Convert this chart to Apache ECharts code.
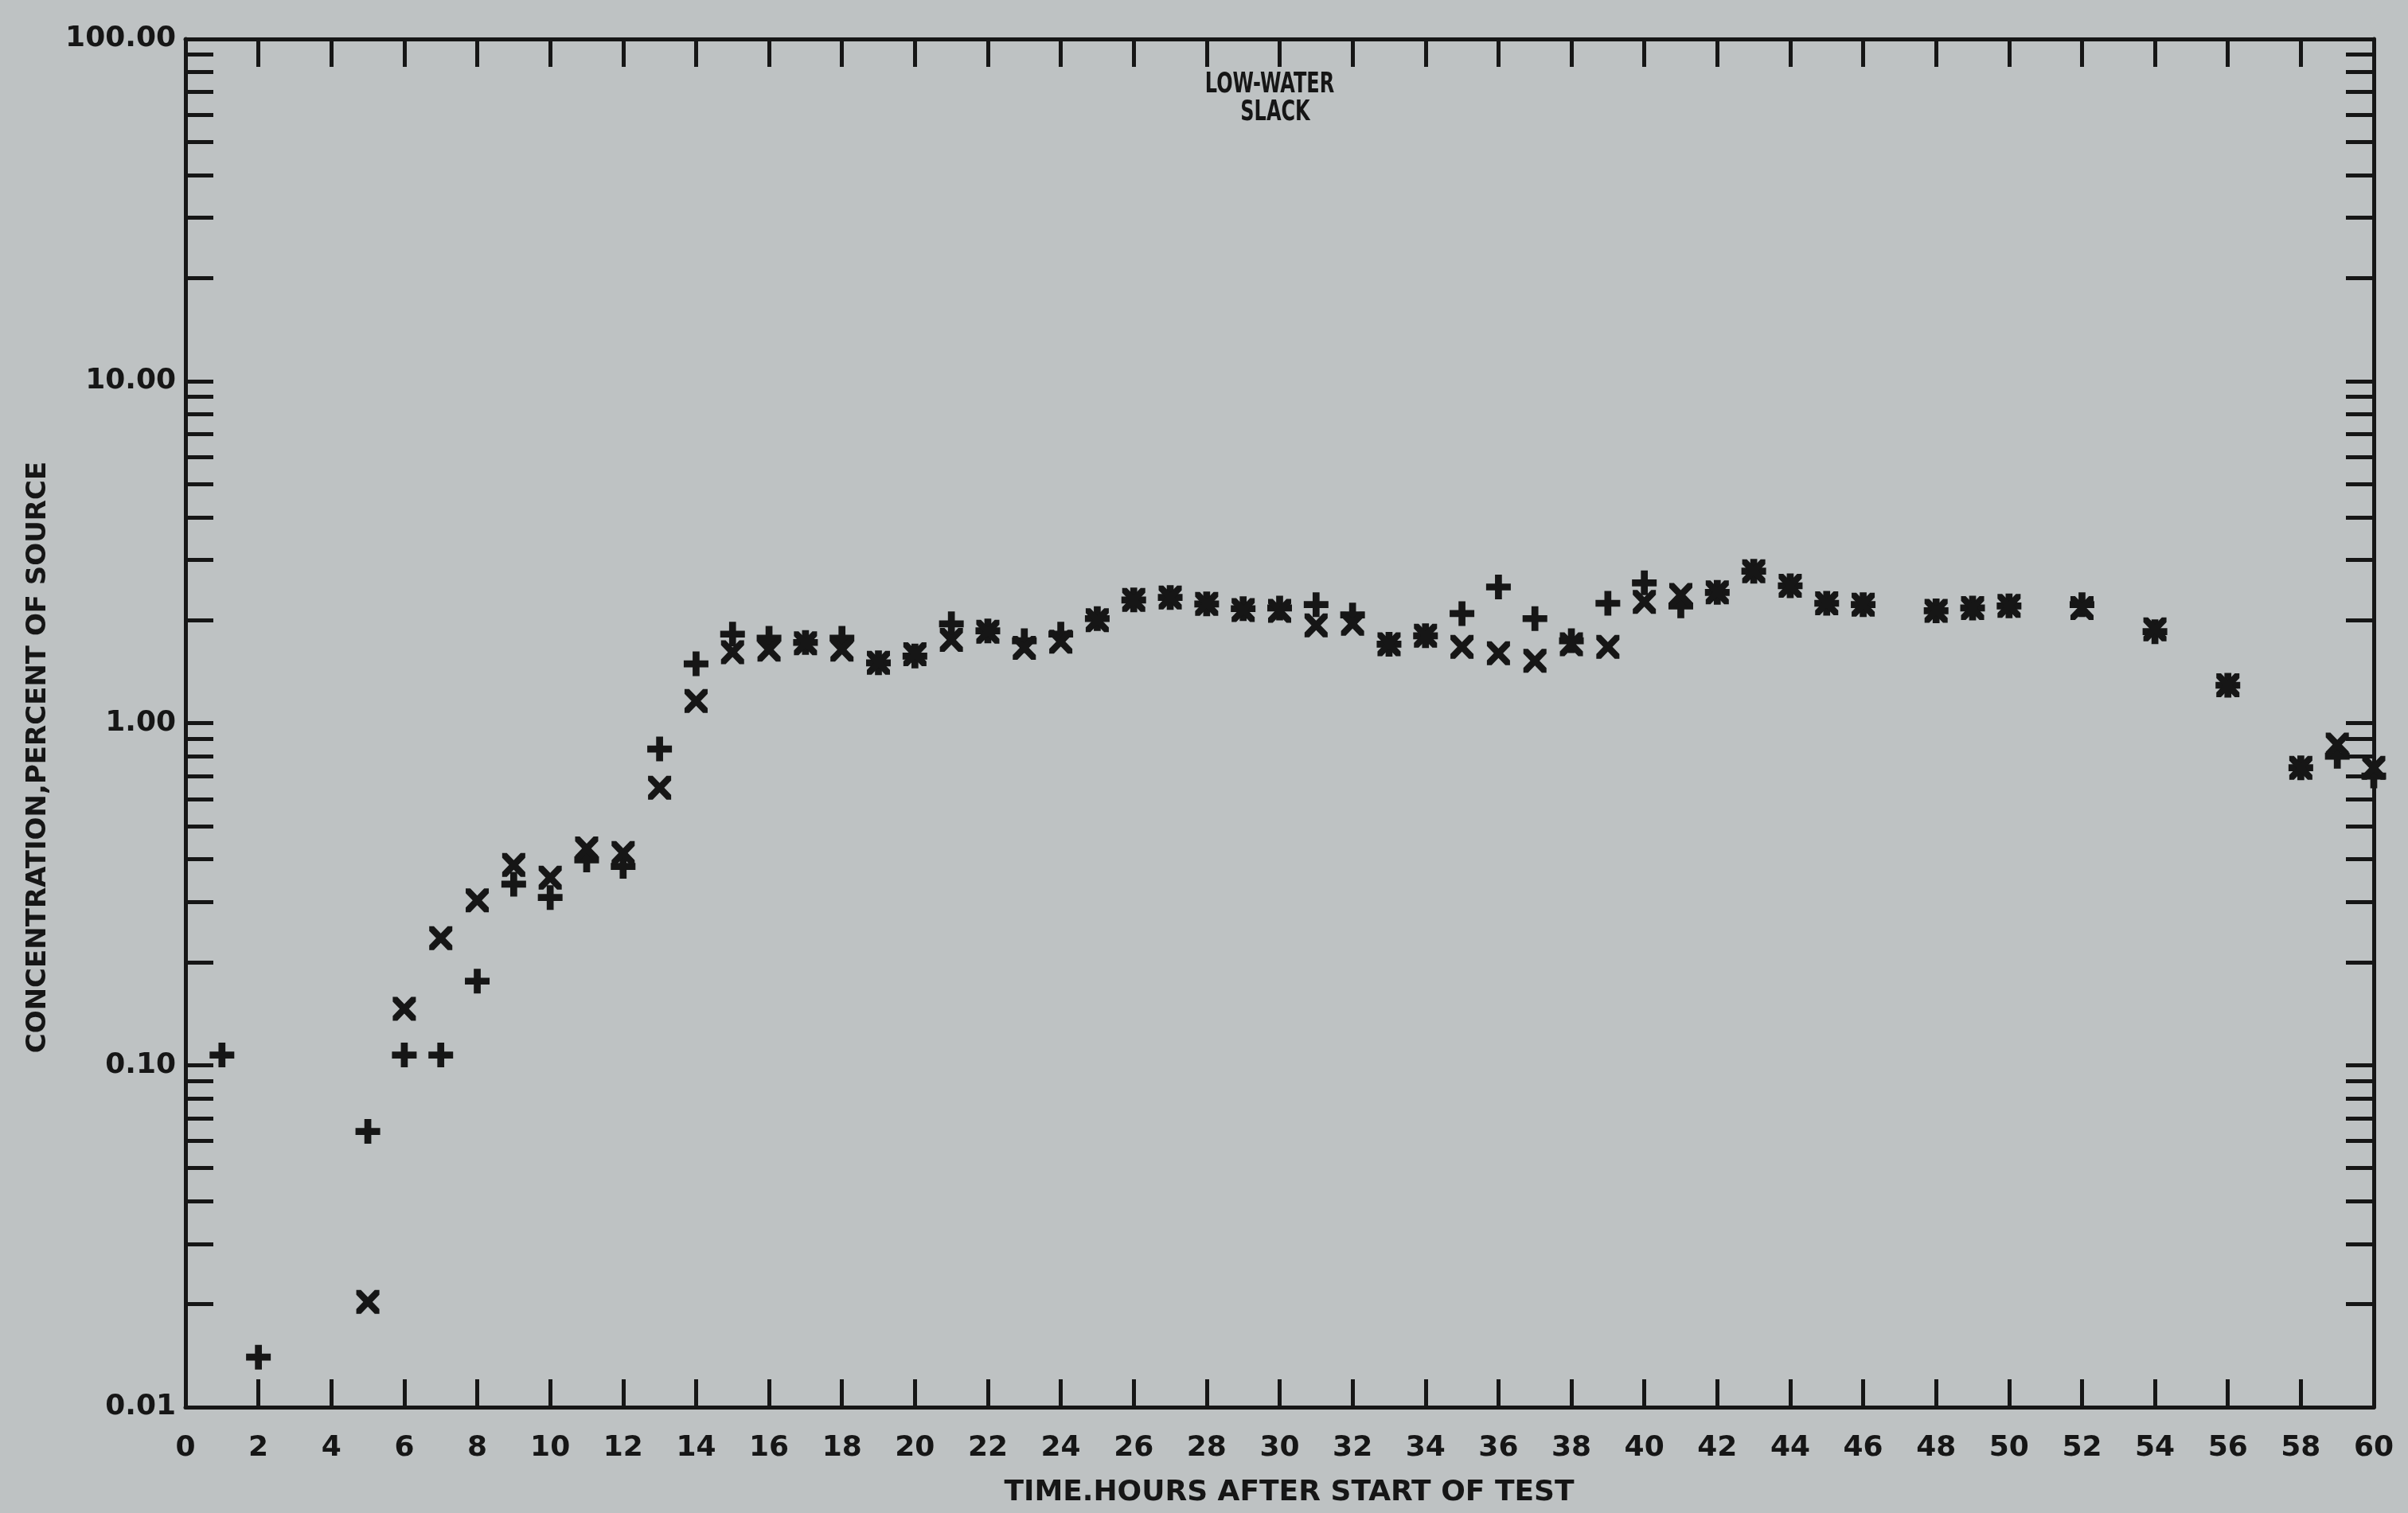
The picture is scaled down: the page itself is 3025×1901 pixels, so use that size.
<!DOCTYPE html>
<html style="height: 100%">

<head>
    <meta charset="utf-8">
    <script src="https://cdn.jsdelivr.net/npm/echarts@6/dist/echarts.min.js"></script>
</head>

<body style="height: 100%; margin: 0; background: #bec2c3">
    <div id="main" style="width: 3025px; height: 1901px;"></div>
    <script type="text/javascript">
    // "+" readings (hours, percent of source)
    var plusHours = [1, 2, 5, 6, 7, 8, 9, 10, 11, 12, 13, 14, 15, 16, 17, 18, 19, 20, 21, 22, 23, 24, 25, 26, 27, 28, 29, 30,
        31, 32, 33, 34, 35, 36, 37, 38, 39, 40, 41, 42, 43, 44, 45, 46, 48, 49, 50, 52, 54, 56, 58, 59, 60];
    var plusValues = [0.107, 0.014, 0.064, 0.107, 0.107, 0.176, 0.338, 0.309, 0.398, 0.381, 0.84, 1.49, 1.82, 1.77, 1.72, 1.77,
        1.50, 1.57, 1.95, 1.86, 1.74, 1.82, 2.02, 2.29, 2.33, 2.23, 2.16, 2.17, 2.22, 2.07, 1.70, 1.80, 2.09, 2.50, 2.02, 1.74,
        2.24, 2.57, 2.20, 2.41, 2.78, 2.52, 2.24, 2.22, 2.13, 2.17, 2.20, 2.22, 1.85, 1.29, 0.74, 0.80, 0.70];

    // "x" readings
    var crossHours = [5, 6, 7, 8, 9, 10, 11, 12, 13, 14, 15, 16, 17, 18, 19, 20, 21, 22, 23, 24, 25, 26, 27, 28, 29, 30,
        31, 32, 33, 34, 35, 36, 37, 38, 39, 40, 41, 42, 43, 44, 45, 46, 48, 49, 50, 52, 54, 56, 58, 59, 60];
    var crossValues = [0.0203, 0.146, 0.235, 0.303, 0.385, 0.353, 0.430, 0.417, 0.647, 1.16, 1.61, 1.64, 1.71, 1.64, 1.50,
        1.59, 1.75, 1.85, 1.66, 1.73, 2.00, 2.29, 2.33, 2.23, 2.14, 2.13, 1.93, 1.95, 1.70, 1.80, 1.67, 1.60, 1.52, 1.70, 1.67,
        2.26, 2.37, 2.41, 2.78, 2.52, 2.24, 2.22, 2.13, 2.17, 2.20, 2.17, 1.88, 1.29, 0.74, 0.865, 0.74];

    // log axis: labelled decades and the 1..9 ticks inside each decade
    var yLabelValues = [0.01, 0.1, 1, 10, 100];
    var yTickValues = [];
    [0.01, 0.1, 1, 10].forEach(function (d) {
        for (var k = 1; k <= 9; k++) yTickValues.push(+(k * d).toPrecision(3));
    });
    yTickValues.push(100);

    var ink = '#161616';
    var plusPath = 'path://M3.6,0H6.4V3.6H10V6.4H6.4V10H3.6V6.4H0V3.6H3.6Z';
    var crossPath = 'path://M0,0L2,0L5,3L8,0L10,0L10,2L7,5L10,8L10,10L8,10L5,7L2,10L0,10L0,8L3,5L0,2Z';

    var myChart = echarts.init(document.getElementById('main'));

    var axisLine = { show: true, onZero: false, lineStyle: { color: ink, width: 5 } };
    var axisTick = { show: true, inside: true, length: 35, lineStyle: { color: ink, width: 5 } };
    var labelFont = { fontFamily: 'DejaVu Sans', fontWeight: 'bold', fontSize: 36, color: ink };

    var option = {
        backgroundColor: '#bec2c3',
        animation: false,
        grid: { left: 233, right: 43, top: 49, bottom: 133 },
        xAxis: [
            {
                type: 'value',
                min: 0,
                max: 60,
                interval: 2,
                position: 'bottom',
                axisLine: axisLine,
                axisTick: axisTick,
                splitLine: { show: false },
                axisLabel: Object.assign({ margin: 34 }, labelFont),
                name: 'TIME.HOURS AFTER START OF TEST',
                nameLocation: 'middle',
                nameGap: 90,
                nameTextStyle: { fontFamily: 'DejaVu Sans', fontWeight: 'bold', fontSize: 36, color: ink, padding: [0, 0, 0, 24] }
            },
            {
                type: 'value',
                min: 0,
                max: 60,
                interval: 2,
                position: 'top',
                axisLine: axisLine,
                axisTick: axisTick,
                splitLine: { show: false },
                axisLabel: { show: false }
            }
        ],
        yAxis: [
            {
                type: 'log',
                logBase: 10,
                min: 0.01,
                max: 100,
                position: 'left',
                axisLine: axisLine,
                axisTick: Object.assign({ customValues: yTickValues }, axisTick),
                splitLine: { show: false },
                axisLabel: Object.assign({
                    customValues: yLabelValues,
                    margin: 12,
                    padding: [0, 0, 24, 0],
                    formatter: function (v) { return v.toFixed(2); }
                }, labelFont),
                name: 'CONCENTRATION,PERCENT OF SOURCE',
                nameLocation: 'middle',
                nameGap: 168,
                nameTextStyle: { fontFamily: 'DejaVu Sans', fontWeight: 'bold', fontSize: 34, color: ink, padding: [0, 86, 0, 0] }
            },
            {
                type: 'log',
                logBase: 10,
                min: 0.01,
                max: 100,
                position: 'right',
                axisLine: axisLine,
                axisTick: Object.assign({ customValues: yTickValues }, axisTick),
                splitLine: { show: false },
                axisLabel: { show: false }
            }
        ],
        graphic: [
            {
                type: 'text',
                x: 1595,
                y: 107,
                scaleY: 1.45,
                style: { text: 'LOW-WATER', fontFamily: 'DejaVu Sans', fontWeight: 'bold', fontSize: 24, fill: ink, align: 'center', verticalAlign: 'middle' }
            },
            {
                type: 'text',
                x: 1602,
                y: 142,
                scaleY: 1.45,
                style: { text: 'SLACK', fontFamily: 'DejaVu Sans', fontWeight: 'bold', fontSize: 24, fill: ink, align: 'center', verticalAlign: 'middle' }
            }
        ],
        series: [
            {
                name: 'plus',
                type: 'scatter',
                clip: false,
                symbol: plusPath,
                symbolSize: [31, 31],
                itemStyle: { color: ink, opacity: 1 },
                data: plusHours.map(function (h, i) { return [h, plusValues[i]]; })
            },
            {
                name: 'cross',
                type: 'scatter',
                clip: false,
                symbol: crossPath,
                symbolSize: [29, 30],
                itemStyle: { color: ink, opacity: 1 },
                data: crossHours.map(function (h, i) { return [h, crossValues[i]]; })
            }
        ]
    };
    myChart.setOption(option);
    </script>

</body>

</html>
